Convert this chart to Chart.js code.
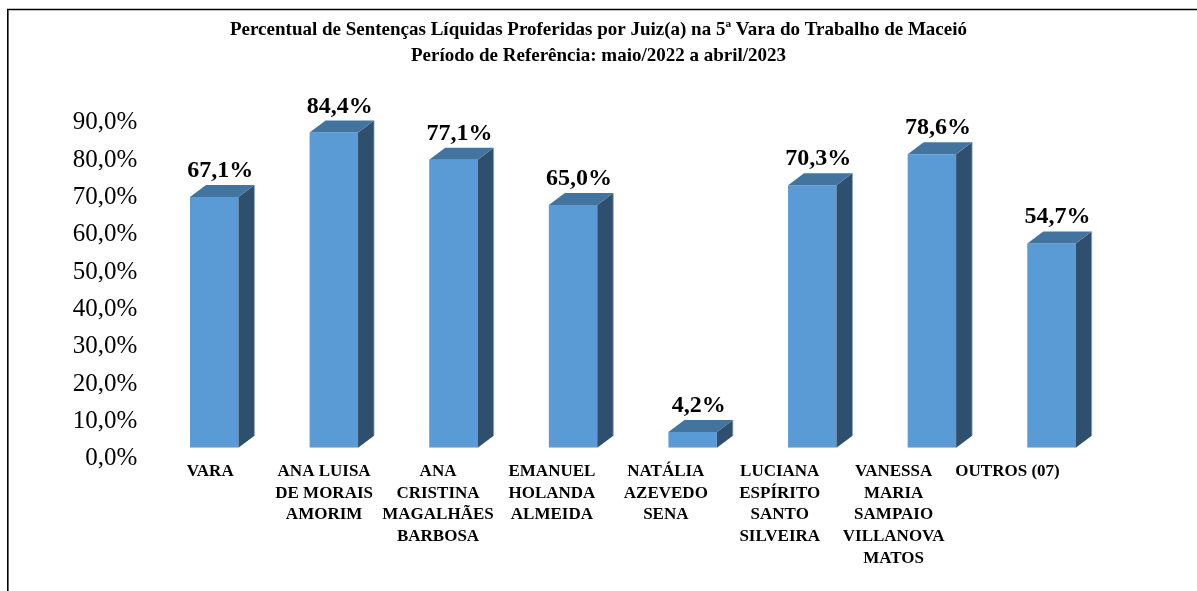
<!DOCTYPE html>
<html><head><meta charset="utf-8">
<script src="https://cdn.jsdelivr.net/npm/chart.js@4.4.0/dist/chart.umd.min.js"></script>
<style>html,body{margin:0;padding:0;background:#fff;}</style>
</head><body>
<canvas id="c" width="1197" height="591" style="display:block;width:1197px;height:591px"></canvas>
<script>
const titleLines = [
  "Percentual de Sentenças Líquidas Proferidas por Juiz(a) na 5ª Vara do Trabalho de Maceió",
  "Período de Referência: maio/2022 a abril/2023"
];
const categories = ["VARA", "ANA LUISA DE MORAIS AMORIM", "ANA CRISTINA MAGALHÃES BARBOSA", "EMANUEL HOLANDA ALMEIDA", "NATÁLIA AZEVEDO SENA", "LUCIANA ESPÍRITO SANTO SILVEIRA", "VANESSA MARIA SAMPAIO VILLANOVA MATOS", "OUTROS (07)"];
const categoryLines = [
  ["VARA"],
  ["ANA LUISA", "DE MORAIS", "AMORIM"],
  ["ANA", "CRISTINA", "MAGALHÃES", "BARBOSA"],
  ["EMANUEL", "HOLANDA", "ALMEIDA"],
  ["NATÁLIA", "AZEVEDO", "SENA"],
  ["LUCIANA", "ESPÍRITO", "SANTO", "SILVEIRA"],
  ["VANESSA", "MARIA", "SAMPAIO", "VILLANOVA", "MATOS"],
  ["OUTROS (07)"]
];
const values = [67.1, 84.4, 77.1, 65.0, 4.2, 70.3, 78.6, 54.7];
const yMin = 0, yMax = 90, yStep = 10;

const SERIF = "'Liberation Serif', 'Times New Roman', serif";
const fmt = v => v.toFixed(1).replace('.', ',') + '%';
const DX = 16, DY = 12;

const frame = {
  id: 'frame',
  afterDraw(chart) {
    const ctx = chart.ctx;
    ctx.save();
    ctx.strokeStyle = '#000';
    ctx.lineWidth = 1.6;
    ctx.beginPath();
    ctx.moveTo(7.8, 591);
    ctx.lineTo(7.8, 9.5);
    ctx.lineTo(1197, 9.5);
    ctx.stroke();
    ctx.restore();
  }
};

const bar3d = {
  id: 'bar3d',
  afterDatasetsDraw(chart) {
    const ctx = chart.ctx;
    const meta = chart.getDatasetMeta(0);
    ctx.save();
    meta.data.forEach((bar, i) => {
      const p = bar.getProps(['x', 'y', 'base', 'width'], true);
      const x1 = p.x - p.width / 2, x2 = p.x + p.width / 2;
      const top = p.y, base = p.base;
      ctx.fillStyle = '#2F4F6E';
      ctx.beginPath();
      ctx.moveTo(x2, top); ctx.lineTo(x2 + DX, top - DY);
      ctx.lineTo(x2 + DX, base - DY); ctx.lineTo(x2, base);
      ctx.closePath(); ctx.fill();
      ctx.strokeStyle = '#8FA9C4'; ctx.lineWidth = 0.8;
      ctx.beginPath(); ctx.moveTo(x2 + DX, top - DY); ctx.lineTo(x2 + DX, base - DY); ctx.stroke();
      ctx.fillStyle = '#4374A0';
      ctx.beginPath();
      ctx.moveTo(x1, top); ctx.lineTo(x1 + DX, top - DY);
      ctx.lineTo(x2 + DX, top - DY); ctx.lineTo(x2, top);
      ctx.closePath(); ctx.fill();
      ctx.fillStyle = '#000';
      ctx.font = 'bold 24px ' + SERIF;
      ctx.textAlign = 'center';
      ctx.textBaseline = 'alphabetic';
      ctx.fillText(fmt(values[i]), p.x + DX / 2 - 2, top - DY - 8);
    });
    ctx.restore();
  }
};

new Chart(document.getElementById('c'), {
  type: 'bar',
  data: {
    labels: categories,
    datasets: [{
      data: values,
      backgroundColor: '#5B9BD5',
      borderWidth: 0,
      barPercentage: 0.405,
      categoryPercentage: 1.0,
      xAxisID: 'x',
      yAxisID: 'y'
    }]
  },
  options: {
    responsive: false,
    animation: false,
    devicePixelRatio: 1,
    layout: { padding: 0 },
    plugins: {
      legend: { display: false },
      tooltip: { enabled: false },
      title: {
        display: true,
        text: titleLines,
        color: '#000',
        font: { family: SERIF, size: 19, weight: 'bold', lineHeight: 26 / 19 },
        padding: { top: 17, bottom: 42.6 }
      }
    },
    scales: {
      x: {
        type: 'category',
        display: false,
        offset: true,
        grid: { display: false }
      },
      xl: {
        type: 'linear',
        position: 'bottom',
        offset: false,
        min: -0.49,
        max: 7.911,
        grid: { display: false, drawTicks: false, offset: false },
        border: { display: false },
        afterBuildTicks(axis) { axis.ticks = categoryLines.map((_, i) => ({ value: i })); },
        afterFit(scale) { scale.height = 591 - 447.7; },
        ticks: {
          autoSkip: false,
          maxRotation: 0,
          minRotation: 0,
          padding: 13,
          color: '#000',
          font: { family: SERIF, size: 17, weight: 'bold', lineHeight: 21.7 / 17 },
          callback: (v) => categoryLines[v] || ''
        }
      },
      y: {
        min: yMin,
        max: yMax,
        grid: { display: false, drawTicks: false },
        border: { display: false },
        afterFit(scale) { scale.width = 154.4; },
        ticks: {
          stepSize: yStep,
          padding: 17,
          labelOffset: 11,
          color: '#000',
          font: { family: SERIF, size: 25 },
          callback: (v) => fmt(v)
        }
      },
      yr: {
        type: 'linear',
        position: 'right',
        min: yMin,
        max: yMax,
        grid: { display: false, drawTicks: false },
        border: { display: false },
        ticks: { display: false },
        afterFit(scale) { scale.width = 1197 - 1111.3; }
      }
    }
  },
  plugins: [frame, bar3d]
});
</script>
</body></html>
